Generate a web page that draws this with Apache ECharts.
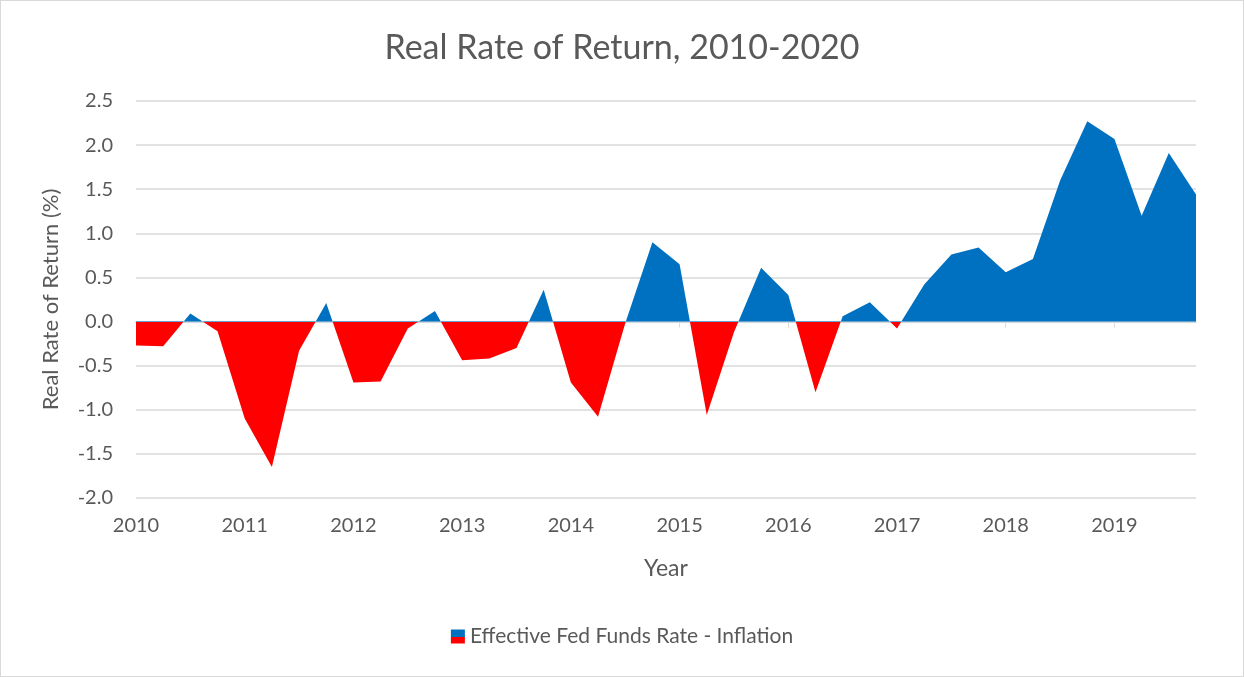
<!DOCTYPE html>
<html>
<head>
<meta charset="utf-8">
<script src="https://cdn.jsdelivr.net/npm/echarts@6/dist/echarts.min.js"></script>
<style>
  html, body { margin: 0; padding: 0; background: #fff; }
  #chart { width: 1242px; height: 675px; border: 1px solid #d9d9d9; }
</style>
</head>
<body>
<div id="chart"></div>
<script>
// year labels along the x axis
const years = ['2010', '2011', '2012', '2013', '2014', '2015', '2016', '2017', '2018', '2019']
// quarterly categories, one per data point
const quarters = years.flatMap(y => [y, y + ' Q2', y + ' Q3', y + ' Q4'])
// Effective Fed Funds Rate - Inflation (%), quarterly
const realRate = [
  -0.27, -0.28, 0.09, -0.11,
  -1.10, -1.65, -0.33, 0.21,
  -0.69, -0.68, -0.08, 0.12,
  -0.44, -0.42, -0.30, 0.36,
  -0.69, -1.08, -0.02, 0.90,
  0.65, -1.06, -0.12, 0.61,
  0.30, -0.80, 0.06, 0.22,
  -0.08, 0.42, 0.76, 0.84,
  0.56, 0.71, 1.60, 2.27,
  2.07, 1.20, 1.91, 1.44
]

const BLUE = '#0070C0'
const RED = '#FF0000'
const TEXT = '#595959'
const FONT = 'Lato, "Open Sans", sans-serif'

const chart = echarts.init(document.getElementById('chart'))

chart.setOption({
  animation: false,
  textStyle: { fontFamily: FONT },
  title: {
    text: 'Real Rate of Return, 2010-2020',
    left: 'center',
    top: 25,
    textStyle: { fontSize: 34, fontWeight: 'normal', color: TEXT, fontFamily: FONT }
  },
  legend: {
    bottom: 24,
    left: 'center',
    icon: 'rect',
    itemWidth: 14,
    itemHeight: 14,
    itemGap: 6,
    textStyle: { fontSize: 21, color: TEXT, fontFamily: FONT },
    data: ['Effective Fed Funds Rate - Inflation']
  },
  visualMap: {
    show: false,
    seriesIndex: 0,
    dimension: 1,
    pieces: [
      { min: -5, max: 0, color: RED },
      { gt: 0, max: 5, color: BLUE }
    ]
  },
  grid: {
    left: 135,
    right: 47,
    top: 100,
    bottom: 178
  },
  xAxis: [
    {
      type: 'category',
      data: quarters,
      boundaryGap: false,
      position: 'bottom',
      axisLine: { onZero: true, lineStyle: { color: '#c9d3dd', width: 1.5 } },
      axisTick: { show: true, interval: 3, length: 6, lineStyle: { color: '#d9d9d9' } },
      axisLabel: { show: false },
      splitLine: { show: false }
    },
    {
      type: 'category',
      data: quarters,
      boundaryGap: false,
      position: 'bottom',
      axisLine: { show: false, onZero: false },
      axisTick: { show: false },
      axisLabel: {
        interval: 3,
        margin: 18,
        fontSize: 20,
        color: TEXT,
        formatter: v => v.slice(0, 4)
      },
      name: 'Year',
      nameLocation: 'middle',
      nameGap: 59,
      nameTextStyle: { fontSize: 23, color: TEXT }
    }
  ],
  yAxis: {
    type: 'value',
    min: -2,
    max: 2.5,
    interval: 0.5,
    axisLine: { show: false },
    axisTick: { show: false },
    axisLabel: {
      margin: 23,
      fontSize: 20,
      color: TEXT,
      formatter: v => v.toFixed(1)
    },
    splitLine: { lineStyle: { color: '#d9d9d9', width: 1.5 } },
    name: 'Real Rate of Return (%)',
    nameLocation: 'middle',
    nameGap: 74,
    nameTextStyle: { fontSize: 22, color: TEXT }
  },
  series: [
    {
      name: 'Effective Fed Funds Rate - Inflation',
      type: 'line',
      xAxisIndex: 0,
      data: realRate,
      symbol: 'none',
      lineStyle: { width: 0 },
      itemStyle: {
        color: {
          type: 'linear', x: 0, y: 0, x2: 0, y2: 1,
          colorStops: [
            { offset: 0, color: BLUE },
            { offset: 0.55, color: BLUE },
            { offset: 0.55, color: RED },
            { offset: 1, color: RED }
          ]
        }
      },
      areaStyle: { opacity: 1 }
    }
  ]
})
</script>
</body>
</html>
